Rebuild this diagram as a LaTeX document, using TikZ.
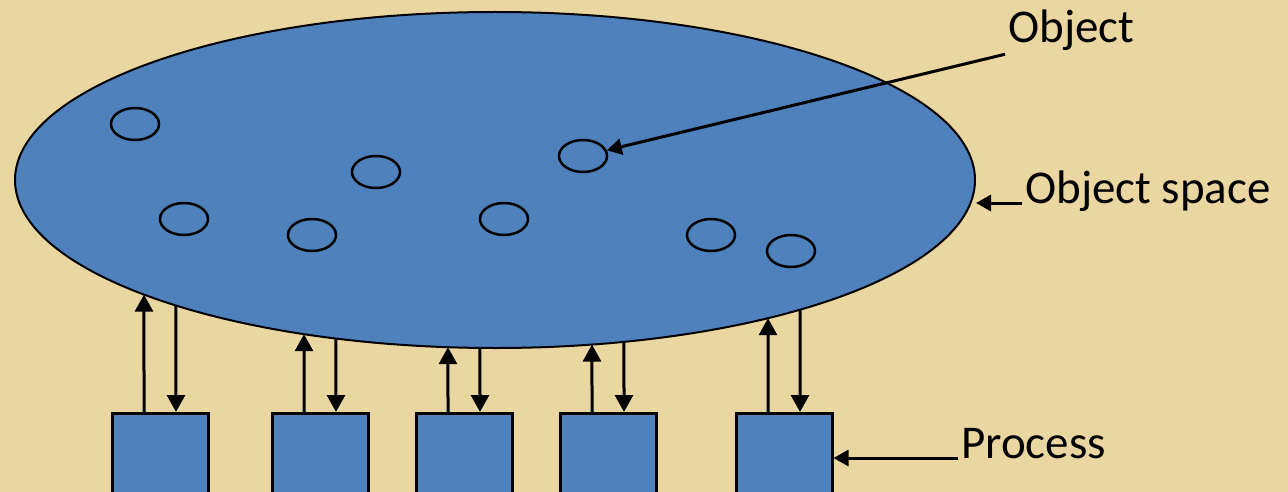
\documentclass[tikz,border=0pt]{standalone}
\usepackage{fontspec}
\setmainfont{Carlito}
\usetikzlibrary{arrows.meta,positioning,calc,shapes.geometric,intersections}
\definecolor{OsPaper}{RGB}{234,214,160}
\definecolor{OsBlue}{RGB}{79,129,189}
\tikzset{
  os/space/.style={
    ellipse,
    draw=black,
    line width=2pt,
    fill=OsBlue,
    inner sep=0pt,
    minimum width=960pt,
    minimum height=336pt
  },
  os/obj/.style={
    ellipse,
    draw=black,
    line width=2.5pt,
    inner sep=0pt,
    minimum width=48pt,
    minimum height=32pt
  },
  os/proc/.style={
    rectangle,
    draw=black,
    line width=3pt,
    fill=OsBlue,
    inner sep=0pt,
    minimum width=96pt,
    minimum height=96pt,
    anchor=north
  },
  os/flow/.style={-{Triangle[length=17pt,width=18pt]}, line width=3pt, draw=black},
  os/pointer/.style={-{Triangle[length=15pt,width=16pt]}, line width=3pt, draw=black},
  os/label/.style={font=\fontsize{47}{56}\selectfont, text=black, inner sep=3pt, anchor=base west}
}

\begin{document}
\begin{tikzpicture}[x=1pt,y=-1pt]
  \path[use as bounding box] (0,0) rectangle (1288,492);
  \clip (0,0) rectangle (1288,492);
  \fill[OsPaper] (0,0) rectangle (1288,492);

  % object space
  \node[os/space,name path=rim] (space) at (495,180) {};
  \node[os/obj] (o1) at (135,124) {};
  \node[os/obj] (o2) at (376,172) {};
  \node[os/obj] (o3) at (583,156) {};
  \node[os/obj] (o4) at (184,219) {};
  \node[os/obj] (o5) at (312,235) {};
  \node[os/obj] (o6) at (504,219) {};
  \node[os/obj] (o7) at (711,235) {};
  \node[os/obj] (o8) at (791,251) {};

  % processes
  \node[os/proc] (p1) at (160,412) {};
  \node[os/proc] (p2) at (320,412) {};
  \node[os/proc] (p3) at (464,412) {};
  \node[os/proc] (p4) at (608,412) {};
  \node[os/proc] (p5) at (784,412) {};

  \foreach \i in {1,...,5}{
    \coordinate (pu\i) at ($(p\i.north)+(-16,0)$);
    \coordinate (pd\i) at ($(p\i.north)+(16,0)$);
    \path[name path=upline] (pu\i) -- ++(0,-250);
    \path[name path=dnline] (pd\i) -- ++(0,-250);
    \path[name intersections={of=rim and upline, by=su\i}];
    \path[name intersections={of=rim and dnline, by=sd\i}];
    \draw[os/flow] (pu\i) -- (su\i);
    \draw[os/flow] (sd\i) -- (pd\i);
  }

  % labels
  \node[os/label] (lblobj) at (1005,43) {Object};
  \node[os/label] (lblspace) at (1022,203) {Object space};
  \node[os/label] (lblproc) at (958,458) {Process};

  \draw[os/pointer] (lblobj.south west) -- (o3);
  \draw[os/pointer] (lblspace.base west) -- (lblspace.base west -| space.east);
  \draw[os/pointer] (lblproc.base west) -- (lblproc.base west -| p5.east);
\end{tikzpicture}
\end{document}
